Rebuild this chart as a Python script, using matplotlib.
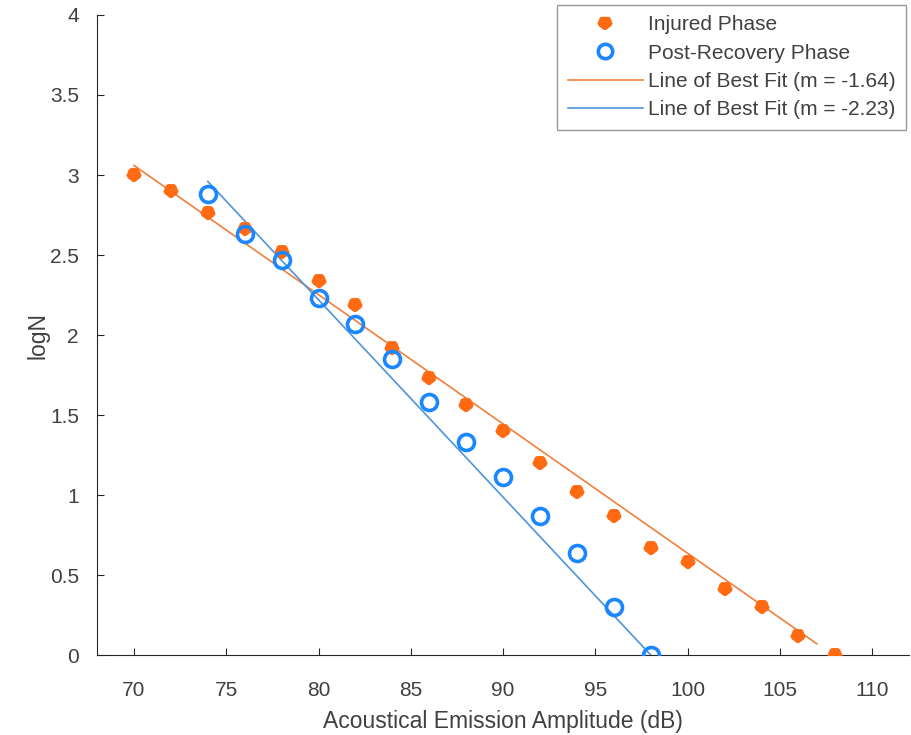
import numpy as np
import matplotlib.pyplot as plt
from matplotlib.ticker import FuncFormatter

plt.rcParams['font.family'] = ['Liberation Sans', 'DejaVu Sans']

# injured phase data
inj_x = [70, 72, 74, 76, 78, 80, 82, 84, 86, 88, 90, 92, 94, 96, 98, 100, 102, 104, 106, 108]
inj_y = [3.00, 2.90, 2.76, 2.66, 2.52, 2.34, 2.19, 1.92, 1.73, 1.56, 1.40, 1.20, 1.02, 0.87,
         0.67, 0.58, 0.41, 0.30, 0.12, 0.00]

# post-recovery phase data
post_x = [74, 76, 78, 80, 82, 84, 86, 88, 90, 92, 94, 96, 98]
post_y = [2.88, 2.63, 2.47, 2.23, 2.07, 1.85, 1.58, 1.33, 1.11, 0.87, 0.64, 0.30, 0.00]

# fitted lines (endpoints)
fit_inj_x = [70, 107]
fit_inj_y = [3.06, 0.07]
fit_post_x = [74, 98]
fit_post_y = [2.96, 0.0]

labels = ['Injured Phase', 'Post-Recovery Phase',
          'Line of Best Fit (m = -1.64)', 'Line of Best Fit (m = -2.23)']

grey = '#404040'
orange = '#FF6A13'
blue = '#1A86FF'

fig = plt.figure(figsize=(9.11, 7.35), dpi=100)
ax = fig.add_axes([0.1065, 0.1088, 0.8915, 0.8708])

ax.plot(inj_x, inj_y, linestyle='none', marker='*', color=orange, markersize=8,
        markeredgewidth=5.5, label=labels[0], zorder=3)
ax.plot(post_x, post_y, linestyle='none', marker='o', markerfacecolor='none',
        markeredgecolor=blue, markersize=11.5, markeredgewidth=2.6, label=labels[1], zorder=3)
ax.plot(fit_inj_x, fit_inj_y, color='#F2803A', linewidth=1.2, label=labels[2], zorder=2)
ax.plot(fit_post_x, fit_post_y, color='#4C95DB', linewidth=1.2, label=labels[3], zorder=2)

ax.set_xlim(68, 112)
ax.set_ylim(0, 4)
ax.set_xticks(range(70, 111, 5))
ax.set_yticks(np.arange(0, 4.01, 0.5))
ax.yaxis.set_major_formatter(FuncFormatter(lambda v, p: '%g' % v))

for s in ['top', 'right']:
    ax.spines[s].set_visible(False)
for s in ['left', 'bottom']:
    ax.spines[s].set_color('#262626')
    ax.spines[s].set_linewidth(0.8)
ax.tick_params(direction='in', length=5, width=0.8, color='#262626',
               labelsize=15, labelcolor=grey)
ax.tick_params(axis='x', pad=19)
ax.tick_params(axis='y', pad=13)

ax.set_xlabel('Acoustical Emission Amplitude (dB)', fontsize=16.5, color=grey, labelpad=7)
ax.set_ylabel('logN', fontsize=16.5, color=grey, labelpad=0)

leg_handles = [ax.lines[0], ax.lines[1], ax.lines[2], ax.lines[3]]
leg = ax.legend(handles=leg_handles, loc='upper right', bbox_to_anchor=(0.996, 1.016),
                borderaxespad=0, fontsize=15, frameon=True, fancybox=False,
                edgecolor='#808080', handlelength=3.6, handletextpad=0.25,
                borderpad=0.5, labelspacing=0.45, markerscale=0.9)
leg.get_frame().set_linewidth(1.0)
for t in leg.get_texts():
    t.set_color(grey)

fig.savefig('out.png', dpi=100)
